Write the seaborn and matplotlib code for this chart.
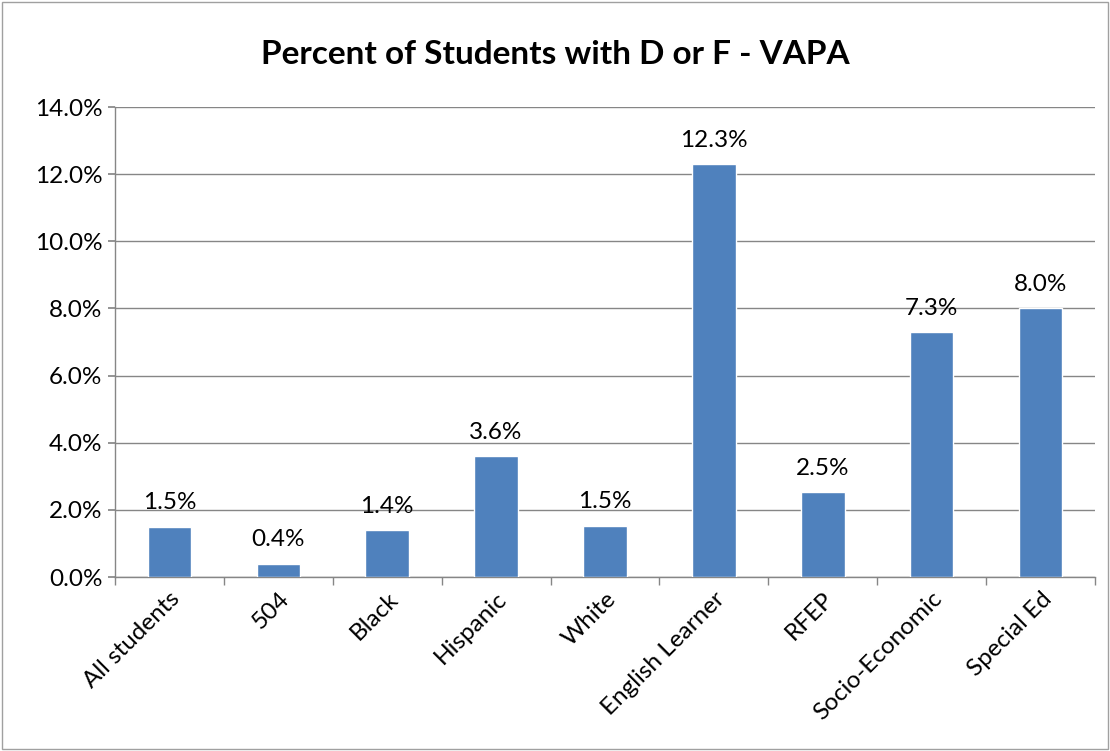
import matplotlib
matplotlib.use("Agg")
import matplotlib.pyplot as plt
import seaborn as sns
import pandas as pd
import numpy as np
from matplotlib.ticker import FuncFormatter, FixedLocator
from matplotlib.patches import Rectangle

categories = ["All students", "504", "Black", "Hispanic", "White",
              "English Learner", "RFEP", "Socio-Economic", "Special Ed"]
values = [1.5, 0.4, 1.4, 3.6, 1.53, 12.3, 2.53, 7.3, 8.0]
labels = ["1.5%", "0.4%", "1.4%", "3.6%", "1.5%", "12.3%", "2.5%", "7.3%", "8.0%"]
title = "Percent of Students with D or F - VAPA"

sns.set_theme(style="white")
plt.rcParams['font.family'] = ['Lato', 'DejaVu Sans']

df = pd.DataFrame({"cat": categories, "val": values})

fig = plt.figure(figsize=(11.1, 7.51), dpi=100)
ax = fig.add_axes([115/1110, 1-577/751, 980/1110, 470/751])

sns.barplot(data=df, x="cat", y="val", color="#4F81BD", width=0.4,
            saturation=1, ax=ax, zorder=3)

ax.set_ylim(0, 14)
ax.set_xlim(-0.5, len(categories) - 0.5)
ax.set_yticks(np.arange(0, 14.01, 2))
ax.yaxis.set_major_formatter(FuncFormatter(lambda v, p: f"{v:.1f}%"))
ax.grid(axis="y", color="#868686", linewidth=1, zorder=0)
ax.set_axisbelow(True)

for s in ["top", "right"]:
    ax.spines[s].set_visible(False)
for s in ["left", "bottom"]:
    ax.spines[s].set_color("#868686")
    ax.spines[s].set_linewidth(1)

fs = 17.5
ax.tick_params(axis="y", left=True, length=5, color="#868686", labelsize=fs, pad=4,
               labelcolor="black")
ax.tick_params(axis="x", which="major", length=0, labelsize=fs, pad=8, labelcolor="black")
ax.xaxis.set_minor_locator(FixedLocator(np.arange(-0.5, len(categories), 1)))
ax.tick_params(axis="x", which="minor", bottom=True, length=6, color="#868686")
plt.setp(ax.get_xticklabels(), rotation=45, ha="right", rotation_mode="anchor")

ax.set_xlabel("")
ax.set_ylabel("")

for i, (v, lab) in enumerate(zip(values, labels)):
    ax.text(i, v + 0.4, lab, ha="center", va="bottom", fontsize=fs, color="black")

fig.text(0.5, 1 - 55/751, title, ha="center", va="center", fontsize=24,
         fontweight="bold", color="black")

fig.patches.append(Rectangle((0.002, 0.002), 0.996, 0.996, transform=fig.transFigure,
                             fill=False, edgecolor="#A0A0A0", linewidth=1))

fig.savefig("out.png", dpi=100)
